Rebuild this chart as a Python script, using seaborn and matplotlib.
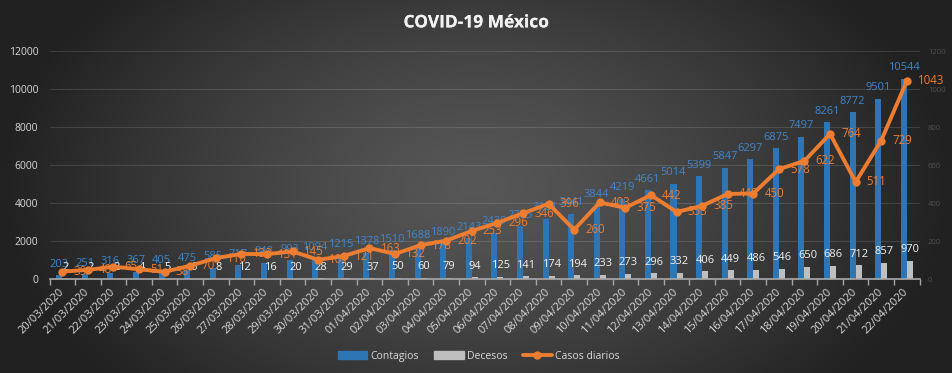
import numpy as np
import pandas as pd
import matplotlib
matplotlib.use("Agg")
import matplotlib.pyplot as plt
import matplotlib.patheffects as pe
from matplotlib.patches import Patch
from matplotlib.lines import Line2D
import seaborn as sns

# ─── Data ─────────────────────────────────────────────────────────────────────
fechas = [
    "20/03/2020", "21/03/2020", "22/03/2020", "23/03/2020", "24/03/2020",
    "25/03/2020", "26/03/2020", "27/03/2020", "28/03/2020", "29/03/2020",
    "30/03/2020", "31/03/2020", "01/04/2020", "02/04/2020", "03/04/2020",
    "04/04/2020", "05/04/2020", "06/04/2020", "07/04/2020", "08/04/2020",
    "09/04/2020", "10/04/2020", "11/04/2020", "12/04/2020", "13/04/2020",
    "14/04/2020", "15/04/2020", "16/04/2020", "17/04/2020", "18/04/2020",
    "19/04/2020", "20/04/2020", "21/04/2020", "22/04/2020",
]
contagios = [203, 251, 316, 367, 405, 475, 585, 717, 848, 993, 1094, 1215,
             1378, 1510, 1688, 1890, 2143, 2439, 2785, 3181, 3441, 3844, 4219,
             4661, 5014, 5399, 5847, 6297, 6875, 7497, 8261, 8772, 9501, 10544]
decesos = [2, 2, 2, 4, 5, 6, 8, 12, 16, 20, 28, 29, 37, 50, 60, 79, 94, 125,
           141, 174, 194, 233, 273, 296, 332, 406, 449, 486, 546, 650, 686,
           712, 857, 970]
casos_diarios = [39, 48, 65, 51, 38, 70, 110, 132, 131, 145, 101, 121, 163,
                 132, 178, 202, 253, 296, 346, 396, 260, 403, 375, 442, 353,
                 385, 448, 450, 578, 622, 764, 511, 729, 1043]

# ─── Colour palette ───────────────────────────────────────────────────────────
_PALETTE = {"Contagios": "#2E75B6", "Decesos": "#BFBFBF", "Casos diarios": "#ED7D31"}
_TEXT = "#D9D9D9"

sns.set_theme(style="white")
plt.rcParams["font.family"] = ["Open Sans", "DejaVu Sans"]

df_barras = pd.DataFrame({"fecha": fechas, "Contagios": contagios, "Decesos": decesos})
df_barras = df_barras.melt(id_vars="fecha", var_name="serie", value_name="valor")
df_linea = pd.DataFrame({"pos": np.arange(len(fechas)), "casos": casos_diarios})

fig = plt.figure(figsize=(9.52, 3.73), dpi=100)

# ── Gradient background ──────────────────────────────────────────────────────
bg = fig.add_axes([0, 0, 1, 1], zorder=-10)
gx, gy = np.meshgrid(np.linspace(-1, 1, 400), np.linspace(-1, 1, 200))
dist = np.clip(np.sqrt((gx / 1.0) ** 2 + (gy / 1.6) ** 2), 0, 1)
shade = 0.34 - 0.21 * dist ** 1.3
bg.imshow(np.dstack([shade] * 3), aspect="auto", extent=[0, 1, 0, 1])
bg.axis("off")

ax = fig.add_axes([0.052, 0.252, 0.914, 0.611])
ax.set_facecolor("none")

# ── Bars ──────────────────────────────────────────────────────────────────────
sns.barplot(data=df_barras, x="fecha", y="valor", hue="serie",
            palette=_PALETTE, saturation=1, width=0.47, linewidth=0,
            legend=False, ax=ax)
for cont, col in zip(ax.containers, ["#3F86CC", "#F2F2F2"]):
    ax.bar_label(cont, fmt="%d", padding=4, fontsize=8, color=col)

ax.set_ylim(0, 12000)
ax.set_yticks(np.arange(0, 12001, 2000))
ax.yaxis.grid(True, color="white", alpha=0.13, lw=0.8)
ax.set_axisbelow(True)
ax.tick_params(axis="y", length=0, labelcolor=_TEXT, labelsize=7.5, pad=8)
ax.set_xlabel("")
ax.set_ylabel("")
for s in ["top", "right", "left"]:
    ax.spines[s].set_visible(False)
ax.spines["bottom"].set_color("#A6A6A6")

# ── Daily cases line on secondary axis ───────────────────────────────────────
ax2 = ax.twinx()
sns.lineplot(data=df_linea, x="pos", y="casos", color=_PALETTE["Casos diarios"],
             lw=2.8, marker="o", markersize=6, markeredgewidth=0, ax=ax2)
for xp, v in zip(df_linea["pos"], df_linea["casos"]):
    ax2.annotate(str(v), (xp, v), xytext=(8, 0), textcoords="offset points",
                 ha="left", va="center", fontsize=8.3, color=_PALETTE["Casos diarios"])
ax2.set_ylim(0, 1200)
ax2.set_yticks(np.arange(0, 1201, 200))
ax2.tick_params(axis="y", length=0, labelcolor="#505050", labelsize=5.5, pad=6)
ax2.set_ylabel("")
for s in ax2.spines.values():
    s.set_visible(False)

ax.set_xlim(-0.5, len(fechas) - 0.5)
ax.set_xticks(np.arange(len(fechas)))
ax.set_xticklabels(fechas, rotation=45, ha="right", va="center",
                   rotation_mode="anchor", fontsize=8, color=_TEXT)
ax.tick_params(axis="x", which="major", length=0, pad=8)
ax.set_xticks(np.arange(len(fechas) + 1) - 0.5, minor=True)
ax.tick_params(axis="x", which="minor", length=4, color="#A6A6A6", bottom=True)
ax2.set_xlabel("")

# ── Title & legend ───────────────────────────────────────────────────────────
fig.text(0.5, 0.94, "COVID-19 México", ha="center", va="center",
         fontsize=12.5, fontweight="bold", color="#F2F2F2",
         path_effects=[pe.withSimplePatchShadow(offset=(1.2, -1.2), alpha=0.6), pe.Normal()])

handles = [
    Patch(color=_PALETTE["Contagios"], label="Contagios"),
    Patch(color=_PALETTE["Decesos"], label="Decesos"),
    Line2D([], [], color=_PALETTE["Casos diarios"], lw=2.8, marker="o",
           markersize=5, label="Casos diarios"),
]
fig.legend(handles=handles, loc="center", bbox_to_anchor=(0.503, 0.045), ncol=3,
           frameon=False, fontsize=7.5, labelcolor=_TEXT, handlelength=2.8,
           handleheight=0.7, handletextpad=0.3, columnspacing=1.5)

fig.savefig("out.png", dpi=100)
